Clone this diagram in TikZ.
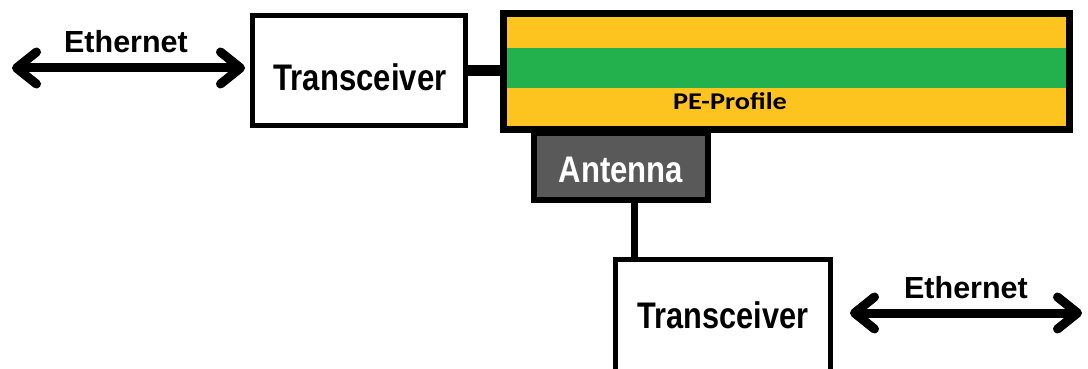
\documentclass[tikz,border=0pt]{standalone}
\usepackage{fontspec}
\setmainfont{Liberation Sans}
\newfontfamily\calib{Carlito}
\usetikzlibrary{arrows.meta}
\definecolor{peyellow}{HTML}{FDC420}
\definecolor{pegreen}{HTML}{22B14C}
\definecolor{antgrey}{HTML}{595959}
\begin{document}
\begin{tikzpicture}[x=1pt,y=-1pt,
  box/.style={draw=black, line width=5pt, fill=white, inner sep=0pt, minimum width=213pt, minimum height=110pt},
  lbl/.style={font=\fontsize{37}{40}\selectfont\bfseries, anchor=base, inner sep=0pt},
  eth/.style={font=\fontsize{30.5}{34}\selectfont\bfseries, anchor=base, inner sep=0pt},
  barb/.tip={Straight Barb[length=20pt, width=32pt, line cap=round, line join=round]},
  arr/.style={line width=9pt, line cap=round, barb-barb},
  wire/.style={line width=#1, draw=black}
]
\useasboundingbox (0,0) rectangle (1088,369);
% boxes
\node[box] (T1) at (359,70.5) {};
\node[box, minimum width=215pt, minimum height=113pt] (T2) at (723,316) {};
\node[draw=black, line width=6pt, fill=antgrey, inner sep=0pt, minimum width=174pt, minimum height=67pt] (ant) at (621,166.5) {};
\node[draw=black, line width=7pt, fill=peyellow, inner sep=0pt, minimum width=566pt, minimum height=116pt] (PE) at (786.5,71.5) {};
\fill[pegreen] (507,48) rectangle (1066,88);
% texts
\node[lbl] (t1txt) at (360,91) {\scalebox{0.84}[1]{Transceiver}};
\node[lbl] (t2txt) at (723,328) {\scalebox{0.83}[1]{Transceiver}};
\node[lbl, text=white] (anttxt) at (621,182) {\scalebox{0.84}[1]{Antenna}};
\node[anchor=base, inner sep=0pt, font=\calib\bfseries\fontsize{24}{28}\selectfont] (petxt) at (730,110) {\scalebox{1.18}[1]{PE-Profile}};
\node[eth] (eth1) at (126,53) {Ethernet};
\node[eth] (eth2) at (966,298) {Ethernet};
% connectors
\coordinate (l1) at (12,68);
\coordinate (r2) at (1082,313);
\coordinate (vc) at (634,0);
\draw[arr, shorten >=5pt] (l1) -- (l1 -| T1.west);
\draw[arr, shorten <=17pt] (T2.east |- r2) -- (r2);
\draw[wire=11pt] (T1.east) -- (T1.east -| PE.west);
\draw[wire=7pt] (ant.south -| vc) -- (T2.north -| vc);
\end{tikzpicture}
\end{document}
